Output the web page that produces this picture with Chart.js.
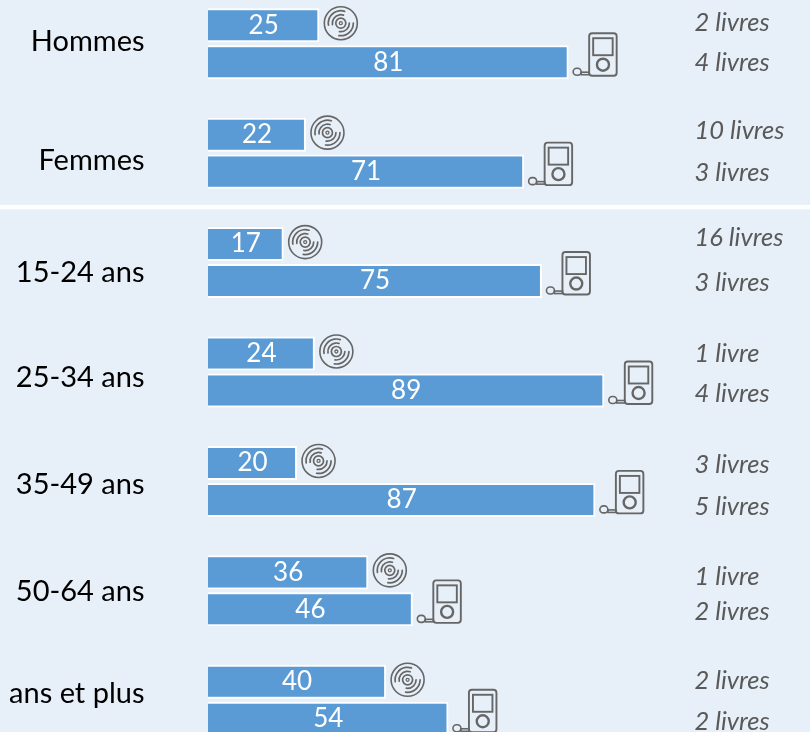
<!DOCTYPE html>
<html>
<head>
<meta charset="utf-8">
<script src="https://cdn.jsdelivr.net/npm/chart.js@4"></script>
<style>
html, body { margin: 0; height: 100%; overflow: hidden; background: #e7eff8; }
#wrap { position: absolute; left: 0; top: -11px; width: 810px; height: 766px; }
</style>
</head>
<body>
<div id="wrap"><canvas id="bookChart"></canvas></div>
<script>
const categories = ['Hommes', 'Femmes', '15-24 ans', '25-34 ans', '35-49 ans', '50-64 ans', 'ans et plus'];
const cdValues = [25, 22, 17, 24, 20, 36, 40];
const mp3Values = [81, 71, 75, 89, 87, 46, 54];
const cdBooks = ['2 livres', '10 livres', '16 livres', '1 livre', '3 livres', '1 livre', '2 livres'];
const mp3Books = ['4 livres', '3 livres', '3 livres', '4 livres', '5 livres', '2 livres', '2 livres'];

// the labels in the picture do not sit quite on their rows
const labelShift = [-2, 7, 10, 6, 3, 1, -7];
const cdBookShift = [-2, -4, -6, 0, 2, 4, -1];
const mp3BookShift = [1, 1, 2, 3, 7, 2, 3];

const iconColor = '#666666';

function drawDisc(ctx, x, y) {
    ctx.save();
    ctx.strokeStyle = iconColor;
    ctx.lineCap = 'round';
    ctx.lineWidth = 1.6;
    ctx.beginPath();
    ctx.arc(x, y, 16.5, 0, Math.PI * 2);
    ctx.stroke();
    ctx.lineWidth = 1.3;
    ctx.beginPath();
    ctx.arc(x, y, 1.5, 0, Math.PI * 2);
    ctx.stroke();
    ctx.lineWidth = 1.7;
    ctx.beginPath();
    ctx.arc(x, y, 5, 0, Math.PI * 2);
    ctx.stroke();
    [8.5, 12.5].forEach(function (r) {
        ctx.beginPath();
        ctx.arc(x, y, r, Math.PI * 0.95, Math.PI * 1.6);
        ctx.stroke();
        ctx.beginPath();
        ctx.arc(x, y, r, Math.PI * 0.0, Math.PI * 0.55);
        ctx.stroke();
    });
    ctx.restore();
}

function drawPlayer(ctx, x, y) {
    // x is the left of the body, y its top
    ctx.save();
    ctx.strokeStyle = iconColor;
    ctx.lineWidth = 1.9;
    ctx.beginPath();
    ctx.roundRect(x, y, 27.5, 42.5, 3);
    ctx.stroke();
    ctx.strokeRect(x + 4, y + 5, 19.5, 17);
    ctx.lineWidth = 2.4;
    ctx.beginPath();
    ctx.arc(x + 13.8, y + 31.5, 6, 0, Math.PI * 2);
    ctx.stroke();
    ctx.lineWidth = 1.6;
    ctx.beginPath();
    ctx.roundRect(x - 16, y + 35, 8, 7, 3.5);
    ctx.stroke();
    ctx.strokeRect(x - 8, y + 39, 8, 2.5);
    ctx.restore();
}

const overlayPlugin = {
    id: 'overlay',
    afterUpdate(chart) {
        const items = chart.scales.y.getLabelItems(chart.chartArea);
        items.forEach(function (item, i) {
            item.options.translation[1] += labelShift[i];
        });
    },
    beforeDatasetsDraw(chart) {
        const ctx = chart.ctx;
        // white rule between the sex rows and the age rows
        const y = (chart.scales.y.getPixelForValue(1) + chart.scales.y.getPixelForValue(2)) / 2;
        ctx.save();
        ctx.fillStyle = '#ffffff';
        ctx.fillRect(0, y - 3, chart.width, 4.5);
        ctx.restore();
    },
    afterDatasetsDraw(chart) {
        const ctx = chart.ctx;
        ctx.save();
        ctx.textBaseline = 'middle';
        chart.data.datasets.forEach(function (ds, d) {
            chart.getDatasetMeta(d).data.forEach(function (bar, i) {
                ctx.fillStyle = '#ffffff';
                ctx.textAlign = 'center';
                ctx.font = '26px Lato';
                ctx.fillText(ds.data[i], (bar.x + bar.base) / 2, bar.y);

                ctx.fillStyle = '#595959';
                ctx.textAlign = 'left';
                ctx.font = 'italic 25.5px Lato';
                const books = d === 0 ? cdBooks : mp3Books;
                const shift = d === 0 ? cdBookShift : mp3BookShift;
                ctx.fillText(books[i], 694.5, bar.y + shift[i]);

                if (d === 0) {
                    drawDisc(ctx, bar.x + 21.5, bar.y - 2);
                } else {
                    drawPlayer(ctx, bar.x + 20.5, bar.y - 29);
                }
            });
        });
        ctx.restore();
    }
};

const data = {
    labels: categories,
    datasets: [
        { label: 'CD', data: cdValues },
        { label: 'MP3', data: mp3Values }
    ].map(function (ds) {
        return Object.assign(ds, {
            backgroundColor: '#5b9bd5',
            borderColor: '#ffffff',
            borderWidth: 2,
            categoryPercentage: 0.676,
            barPercentage: 0.92
        });
    })
};

const config = {
    type: 'bar',
    data: data,
    plugins: [overlayPlugin],
    options: {
        indexAxis: 'y',
        responsive: true,
        maintainAspectRatio: false,
        animation: false,
        layout: { padding: 0 },
        scales: {
            x: {
                display: false,
                min: 0,
                max: 135.2
            },
            y: {
                afterFit(scale) {
                    scale.width = 208;
                    scale.paddingTop = 0;
                    scale.paddingBottom = 0;
                },
                border: { display: false },
                grid: { display: false },
                ticks: {
                    color: '#000000',
                    padding: 55.5,
                    autoSkip: false,
                    font: { family: 'Lato', size: 29 }
                }
            }
        },
        plugins: {
            legend: { display: false },
            tooltip: { enabled: false }
        }
    }
};

const ctx = document.getElementById('bookChart').getContext('2d');
new Chart(ctx, config);
</script>
</body>
</html>
